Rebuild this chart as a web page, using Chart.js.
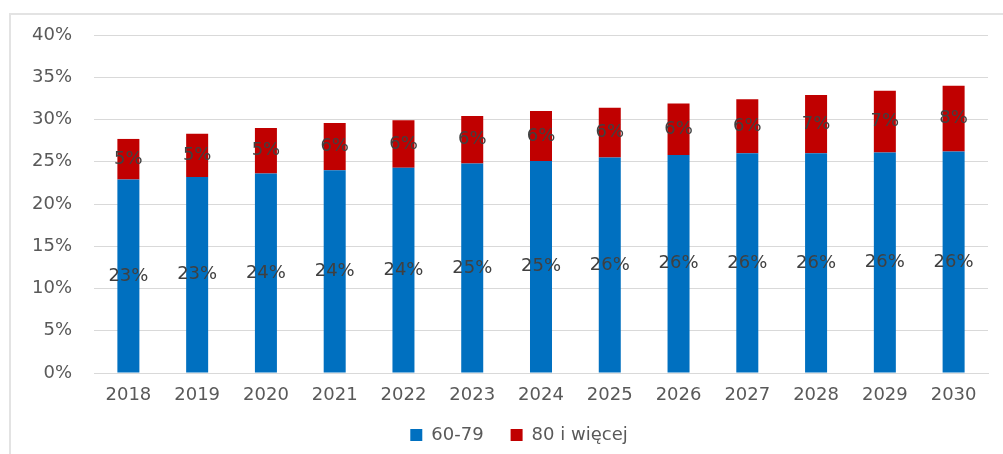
<!DOCTYPE html>
<html>
<head>
<meta charset="utf-8">
<script src="https://cdn.jsdelivr.net/npm/chart.js@4/dist/chart.umd.min.js"></script>
<style>
  html, body { margin: 0; padding: 0; background: #ffffff; }
  #wrap { position: relative; width: 1003px; height: 454px; }
  #frame { position: absolute; left: 9px; top: 13px; right: 0; bottom: 0;
           border-left: 2px solid #e3e3e3; border-top: 2px solid #e3e3e3; pointer-events: none; }
</style>
</head>
<body>
<div id="wrap">
  <canvas id="c" width="1003" height="454"></canvas>
  <div id="frame"></div>
</div>
<script>
const years = ['2018','2019','2020','2021','2022','2023','2024','2025','2026','2027','2028','2029','2030'];
const age60to79 = [22.9, 23.2, 23.6, 24.0, 24.3, 24.8, 25.1, 25.5, 25.8, 26.0, 26.0, 26.1, 26.2];
const age80plus = [4.8, 5.1, 5.4, 5.6, 5.6, 5.6, 5.9, 5.9, 6.1, 6.4, 6.9, 7.3, 7.8];
const seriesNames = ['60-79', '80 i więcej'];
const seriesColors = ['#0070C0', '#C00000'];

const FONT = "'DejaVu Sans', sans-serif";

const dataLabels = {
  id: 'dataLabels',
  afterDatasetsDraw(chart) {
    const ctx = chart.ctx;
    ctx.save();
    ctx.font = '18px ' + FONT;
    ctx.fillStyle = '#404040';
    ctx.textAlign = 'center';
    ctx.textBaseline = 'middle';
    chart.data.datasets.forEach((ds, di) => {
      const meta = chart.getDatasetMeta(di);
      meta.data.forEach((el, i) => {
        const p = el.getProps(['x', 'y', 'base'], true);
        ctx.fillText(Math.round(ds.data[i]) + '%', p.x, (p.y + p.base) / 2);
      });
    });
    ctx.restore();
  }
};

// legend: wide gap between items but a compact band, centred under the frame
const legendTweak = {
  id: 'legendTweak',
  afterInit(chart) {
    const lg = chart.legend;
    if (lg && !lg._tweaked) {
      const fit = lg.fit.bind(lg);
      lg.fit = function () { fit(); this.height -= 9; };
      lg._tweaked = true;
    }
  },
  afterLayout(chart) {
    const lg = chart.legend;
    if (lg) { lg.left += 10; lg.right += 10; lg.top -= 9; lg.bottom -= 9; }
  }
};

new Chart(document.getElementById('c'), {
  type: 'bar',
  data: {
    labels: years,
    datasets: [
      { label: seriesNames[0], data: age60to79, backgroundColor: seriesColors[0], barPercentage: 0.64, categoryPercentage: 0.5 },
      { label: seriesNames[1], data: age80plus, backgroundColor: seriesColors[1], barPercentage: 0.64, categoryPercentage: 0.5 }
    ]
  },
  options: {
    responsive: false,
    animation: false,
    layout: { padding: { left: 30, right: 15, top: 35, bottom: 0 } },
    plugins: {
      tooltip: { enabled: false },
      legend: {
        position: 'bottom',
        labels: {
          font: { family: FONT, size: 18 },
          color: '#595959',
          boxWidth: 12,
          boxHeight: 12,
          padding: 27
        }
      }
    },
    scales: {
      x: {
        stacked: true,
        grid: { display: false, drawTicks: false },
        border: { display: true, color: '#d9d9d9', width: 1 },
        ticks: { font: { family: FONT, size: 18 }, color: '#595959', padding: 12, maxRotation: 0 },
        afterFit(s) { s.height = 35; }
      },
      y: {
        stacked: true,
        min: 0, max: 40,
        grid: { color: '#d9d9d9', drawTicks: false },
        border: { display: false },
        ticks: { stepSize: 5, font: { family: FONT, size: 18 }, color: '#595959', padding: 22,
                 callback: v => v + '%' },
        afterFit(s) { s.width = 64; }
      }
    }
  },
  plugins: [dataLabels, legendTweak]
});
</script>
</body>
</html>
